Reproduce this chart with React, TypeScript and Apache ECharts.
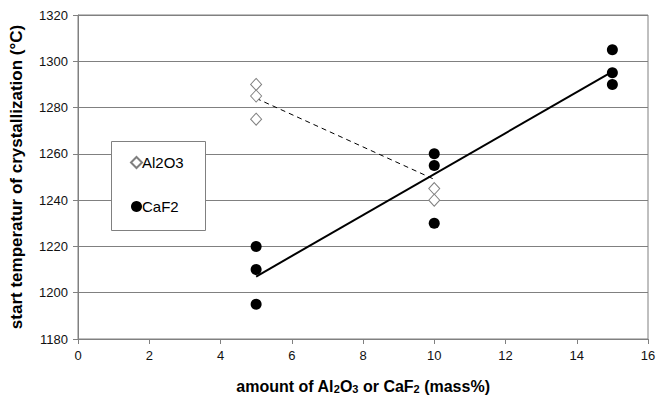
import React, { useEffect, useRef } from "react";
import * as echarts from "echarts";

const al2o3Points: [number, number][] = [
  [5, 1290], [5, 1285], [5, 1275],
  [10, 1245], [10, 1240],
];
const caf2Points: [number, number][] = [
  [5, 1220], [5, 1210], [5, 1195],
  [10, 1260], [10, 1255], [10, 1230],
  [15, 1305], [15, 1295], [15, 1290],
];
const al2o3Trend: [number, number][] = [[5, 1284], [10, 1249]];
const caf2Trend: [number, number][] = [[5, 1207], [15, 1295.5]];
const xTicks = [0, 2, 4, 6, 8, 10, 12, 14, 16];
const yTicks = [1180, 1200, 1220, 1240, 1260, 1280, 1300, 1320];

const FONT = "Arial, 'Liberation Sans', sans-serif";

export default function App() {
  const ref = useRef<HTMLDivElement>(null);
  useEffect(() => {
    if (!ref.current) return;
    const chart = echarts.init(ref.current, undefined, { renderer: "svg" });
    chart.setOption({
      animation: false,
      backgroundColor: "#ffffff",
      textStyle: { fontFamily: FONT },
      grid: {
        left: 78, right: 10, top: 15, bottom: 57,
        outerBoundsMode: "none",
        containLabel: false,
        show: true, borderColor: "#808080", borderWidth: 1, backgroundColor: "#ffffff",
      },
      graphic: [
        {
          type: "rect",
          left: 111,
          top: 141,
          shape: { width: 94, height: 89 },
          style: { fill: "#ffffff", stroke: "#808080", lineWidth: 1 },
          z: 10,
        },
      ],
      legend: {
        data: ["Al2O3", "CaF2"],
        orient: "vertical",
        left: 130,
        top: 155,
        padding: 0,
        itemGap: 29,
        itemWidth: 11,
        itemHeight: 11,
        z: 20,
        textStyle: { fontFamily: FONT, fontSize: 15, color: "#000", padding: [0, 0, 0, -5] },
      },
      xAxis: {
        type: "value",
        min: xTicks[0],
        max: xTicks[xTicks.length - 1],
        interval: 2,
        splitLine: { show: false },
        axisLine: { show: true, lineStyle: { color: "#808080" } },
        axisTick: { show: true, inside: false, length: 5, lineStyle: { color: "#808080" } },
        axisLabel: { color: "#111", fontSize: 13, fontFamily: FONT, margin: 10 },
        name: "{b|amount of Al}{s|2}{b|O}{s|3}{b| or CaF}{s|2}{b| (mass%)}",
        nameLocation: "middle",
        nameGap: 35,
        nameTextStyle: {
          rich: {
            b: { fontSize: 16, fontWeight: "bold", fontFamily: FONT, color: "#000", lineHeight: 20, verticalAlign: "bottom" },
            s: { fontSize: 11, fontWeight: "bold", fontFamily: FONT, color: "#000", lineHeight: 14, verticalAlign: "bottom", padding: [8, 0, 0, 0] },
          },
        },
      },
      yAxis: {
        type: "value",
        min: yTicks[0],
        max: yTicks[yTicks.length - 1],
        interval: 20,
        splitLine: { show: true, lineStyle: { color: "#808080", width: 1 } },
        axisLine: { show: true, lineStyle: { color: "#808080" } },
        axisTick: { show: true, inside: false, length: 5, lineStyle: { color: "#808080" } },
        axisLabel: { color: "#111", fontSize: 13, fontFamily: FONT, margin: 10, formatter: (v: number) => String(v) },
        name: "start temperatur of crystallization (°C)",
        nameLocation: "middle",
        nameGap: 53,
        nameTextStyle: { fontSize: 17, fontWeight: "bold", fontFamily: FONT, color: "#000" },
      },
      series: [
        {
          name: "Al2O3 trend",
          type: "line",
          data: al2o3Trend,
          symbol: "none",
          lineStyle: { color: "#000", width: 1, type: [5, 4] },
          z: 2,
        },
        {
          name: "CaF2 trend",
          type: "line",
          data: caf2Trend,
          symbol: "none",
          lineStyle: { color: "#000", width: 2 },
          z: 2,
        },
        {
          name: "Al2O3",
          type: "scatter",
          data: al2o3Points,
          symbol: "diamond",
          symbolSize: [11, 12],
          itemStyle: { color: "#ffffff", borderColor: "#808080", borderWidth: 1, opacity: 1 },
          z: 3,
        },
        {
          name: "CaF2",
          type: "scatter",
          data: caf2Points,
          symbol: "circle",
          symbolSize: 11,
          itemStyle: { color: "#000000", opacity: 1 },
          z: 3,
        },
      ],
    });
    return () => chart.dispose();
  }, []);
  return <div ref={ref} style={{ width: 658, height: 396, position: "absolute", left: 0, top: 0 }} />;
}
